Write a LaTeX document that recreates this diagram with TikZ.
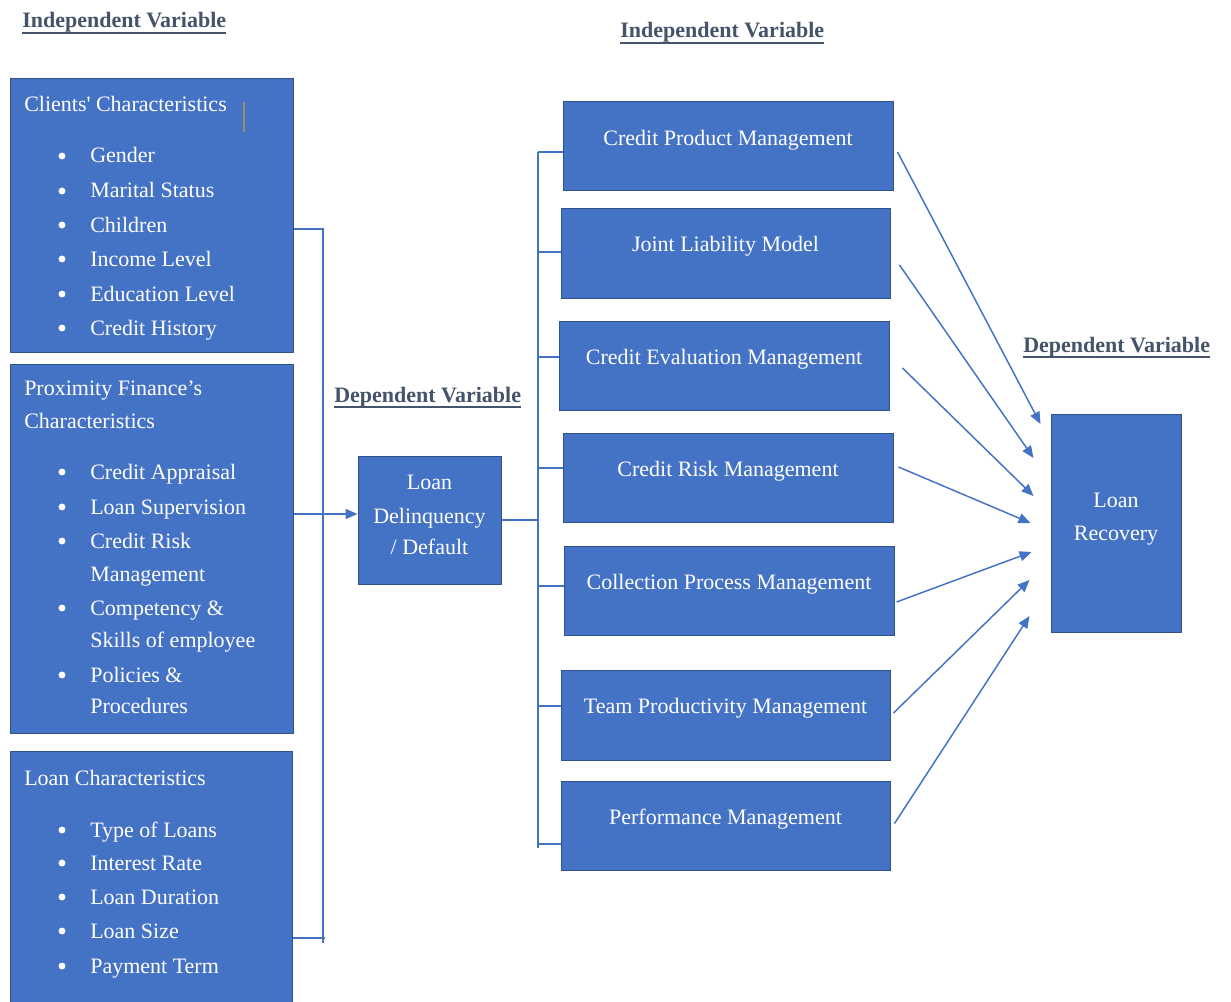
\documentclass[tikz,border=0pt]{standalone}
\usepackage{fontspec}
\setmainfont{Liberation Serif}
\newfontfamily\rawserif{Liberation Serif}[Ligatures=TeXOff]
\usetikzlibrary{arrows.meta,fit,calc}
\definecolor{boxblue}{HTML}{4472C4}
\definecolor{boxedge}{HTML}{2F528F}
\definecolor{linkblue}{HTML}{4472C4}
\definecolor{headgray}{HTML}{44546A}
\definecolor{cursorcol}{HTML}{A08C6C}
\begin{document}
\begin{tikzpicture}[x=0.75pt,y=-0.75pt,
 box/.style={draw=boxedge, line width=0.75pt, fill=boxblue, inner sep=0pt},
 txt/.style={text=white, font=\fontsize{16.5pt}{20pt}\selectfont, inner sep=0pt},
 item/.style={txt, anchor=base west},
 ctext/.style={txt, anchor=base},
 head/.style={text=headgray, font=\fontsize{16.5pt}{20pt}\selectfont\bfseries, inner sep=0pt, anchor=base west},
 conn/.style={draw=linkblue, line width=1.1pt},
 arr/.style={conn, -{Triangle[length=9pt,width=7.5pt]}},
 ul/.style={draw=headgray, line width=1.6pt}]

\useasboundingbox (0,0) rectangle (1231,1002);
\fill[white] (0,0) rectangle (1231,1002);

% headings
\node[head] (h1) at (22,28) {Independent Variable};
\draw[ul] ([shift={(0,5)}]h1.base west) -- ([shift={(0,5)}]h1.base east);
\node[head] (h2) at (620,38) {Independent Variable};
\draw[ul] ([shift={(0,5)}]h2.base west) -- ([shift={(0,5)}]h2.base east);
\node[head] (h3) at (334,402) {Dependent Variable};
\draw[ul] ([shift={(0,5)}]h3.base west) -- ([shift={(0,5)}]h3.base east);
\node[head] (h4) at (1023,352) {Dependent Variable};
\draw[ul] ([shift={(0,5)}]h4.base west) -- ([shift={(0,5)}]h4.base east);

% left boxes
\node[box, fit={(10,79)(293,352)}] (cc) {};
\node[box, fit={(10,364)(293,733)}] (pf) {};
\node[box, fit={(10,751)(292,1010)}] (lc) {};

% Clients' characteristics
\node[item] (cct) at (24,112) {Clients{\rawserif'} Characteristics};
\draw[cursorcol, line width=0.9pt] (244,102) -- (244,132);
\foreach \t/\b [count=\i] in {Gender/163, Marital Status/198, Children/232, Income Level/266, Education Level/301, Credit History/335}{
  \node[item] (cci\i) at (90,\b) {\t};
  \fill[white] (62,\b-7) circle (2.6pt);
}

% Proximity Finance's characteristics
\node[item] (pft1) at (24,395) {Proximity Finance’s};
\node[item] (pft2) at (24,428) {Characteristics};
\foreach \t/\b [count=\i] in {Credit Appraisal/479, Loan Supervision/514, Credit Risk/548, Competency \&/615, Policies \&/682}{
  \node[item] (pfi\i) at (90,\b) {\t};
  \fill[white] (62,\b-7) circle (2.6pt);
}
\foreach \t/\b [count=\i] in {Management/581, Skills of employee/647, Procedures/713}{
  \node[item] (pfc\i) at (90,\b) {\t};
}

% Loan characteristics
\node[item] (lct) at (24,785) {Loan Characteristics};
\foreach \t/\b [count=\i] in {Type of Loans/837, Interest Rate/870, Loan Duration/904, Loan Size/938, Payment Term/973}{
  \node[item] (lci\i) at (90,\b) {\t};
  \fill[white] (62,\b-7) circle (2.6pt);
}

% Loan delinquency box
\node[box, fit={(358,456)(501,584)}] (ld) {};
\node[ctext] (ldt1) at (429.5,489) {Loan};
\node[ctext] (ldt2) at (429.5,523) {Delinquency};
\node[ctext] (ldt3) at (429.5,554) {/ Default};

% right boxes
\foreach \xa/\ya/\xb/\yb/\t [count=\i] in {
  563/102/893/191/Credit Product Management,
  561/208/890/298/Joint Liability Model,
  559/321/889/410/Credit Evaluation Management,
  563/433/893/522/Credit Risk Management,
  564/546/894/635/Collection Process Management,
  561/670/890/760/Team Productivity Management,
  561/781/890/870/Performance Management}{
  \node[box, fit={(\xa,\ya)(\xb,\yb)}] (r\i) {};
  \node[ctext] (rt\i) at ($(r\i.north)+(0,44)$) {\t};
}

% loan recovery box
\node[box, fit={(1051,414)(1181,632)}] (lr) {};
\node[ctext] (lrt1) at (1116,507) {Loan};
\node[ctext] (lrt2) at (1116,540) {Recovery};

% left bracket
\coordinate (lt) at (323,228);
\coordinate (lb) at (323,943);
\coordinate (l1) at (323,229);
\coordinate (l3) at (325,938);
\coordinate (bm) at (323,514);
\draw[conn] (lt) -- (lb);
\draw[conn] (l1 -| cc.east) -- (l1);
\draw[conn] (l3 -| lc.east) -- (l3);
\draw[arr] (bm -| pf.east) -- (bm -| ld.west);

% right bracket
\coordinate (rtop) at (538,152);
\coordinate (rbot) at (538,848);
\coordinate (rm) at (538,520);
\draw[conn] (rtop) -- (rbot);
\draw[conn] (ld.east |- rm) -- (rm);
\foreach \y [count=\i] in {152,252,357,468,586,706,844}{
  \coordinate (k\i) at (538,\y);
  \draw[conn] (k\i) -- (k\i -| r\i.west);
}

% arrows to loan recovery
\draw[arr] ([shift={(4,5.5)}]r1.east) -- ([shift={(-10,-99)}]lr.west);
\draw[arr] ([shift={(9,12)}]r2.east) -- ([shift={(-17,-65)}]lr.west);
\draw[arr] ([shift={(13,2.5)}]r3.east) -- ([shift={(-17,-27)}]lr.west);
\draw[arr] ([shift={(5,-10.5)}]r4.east) -- ([shift={(-20,0)}]lr.west);
\draw[arr] ([shift={(2,11.5)}]r5.east) -- ([shift={(-19,29)}]lr.west);
\draw[arr] ([shift={(3,-2)}]r6.east) -- ([shift={(-21,57)}]lr.west);
\draw[arr] ([shift={(4,-2)}]r7.east) -- ([shift={(-21,93)}]lr.west);
\end{tikzpicture}
\end{document}
